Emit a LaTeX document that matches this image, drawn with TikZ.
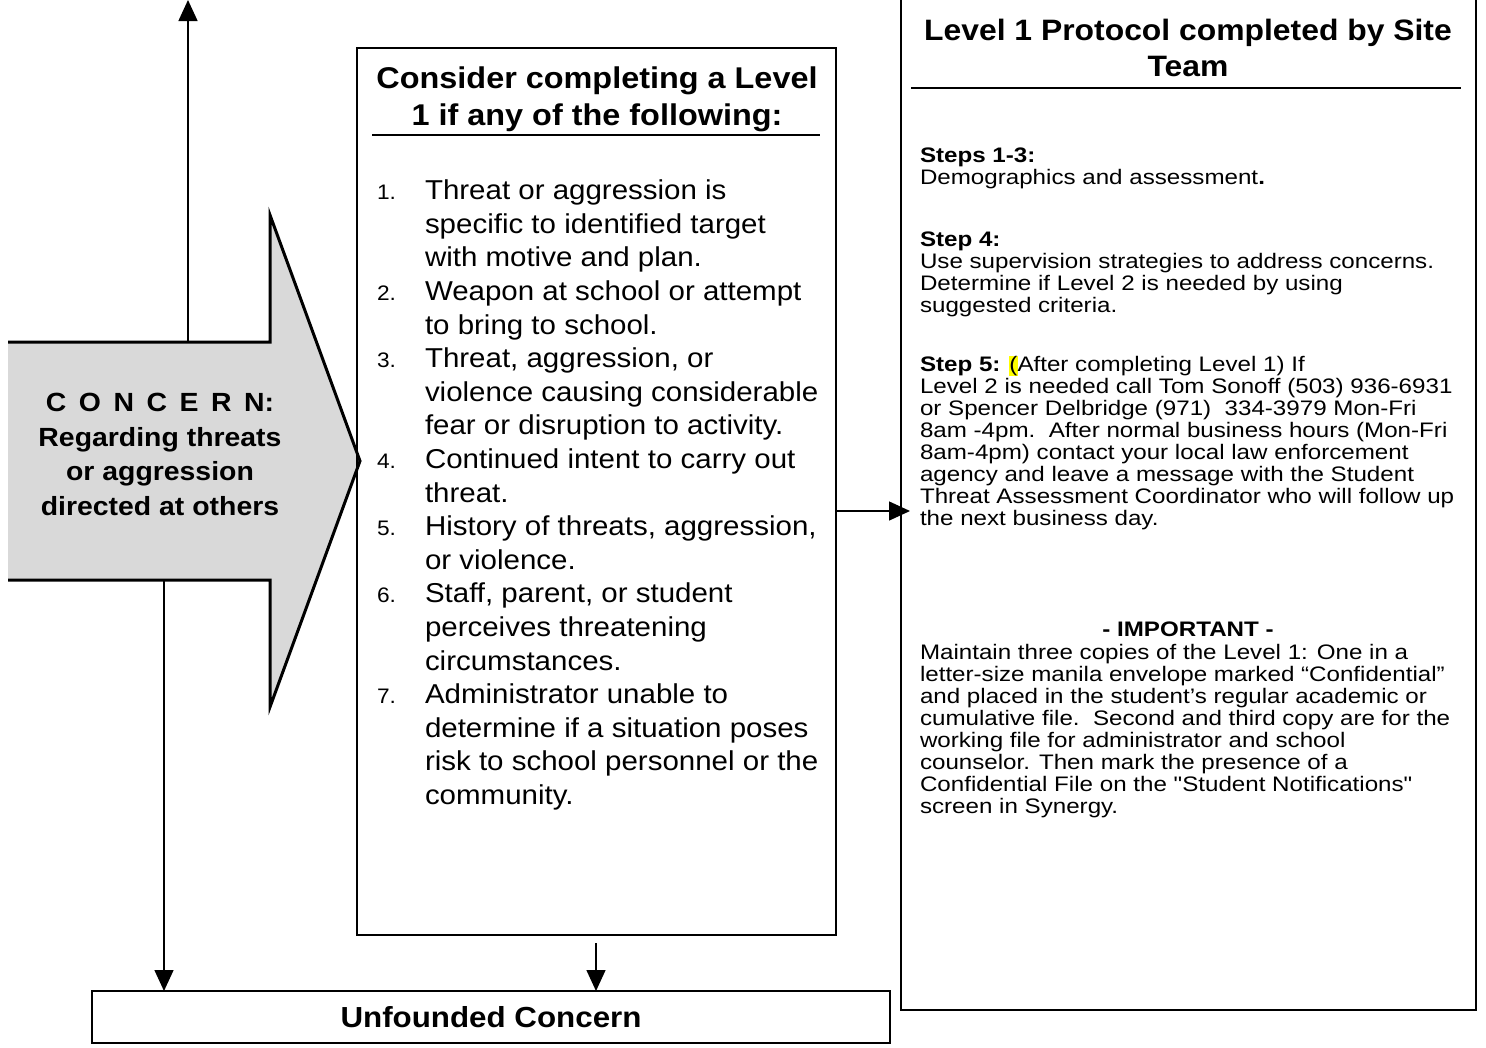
\documentclass[tikz,border=0pt]{standalone}
\usepackage{fontspec}
\setmainfont[FakeStretch=1.08]{Liberation Sans}
\newfontfamily\rightfont[FakeStretch=1.15]{Liberation Sans}
\usetikzlibrary{arrows.meta,calc}
\definecolor{arrowgray}{RGB}{217,217,217}
\definecolor{hlyellow}{RGB}{255,255,0}
\newcommand\numitem[2]{\makebox[48pt][l]{\fontsize{21}{21}\selectfont #1.}#2}
\newcommand\contline[1]{\hspace*{48pt}#1}
\newcommand\hlmark[1]{{\setlength\fboxsep{0pt}\colorbox{hlyellow}{#1}}}
\begin{document}
\begin{tikzpicture}[x=1pt,y=-1pt,
  box/.style={draw, line width=1.5pt, inner sep=0pt, outer sep=0pt, anchor=north west},
  conn/.style={line width=1.5pt, -{Triangle[width=19pt,length=21pt]}},
  rulebar/.style={line width=2pt},
  txt/.style={inner sep=0pt, outer sep=0pt, align=left, anchor=north west},
  listfont/.style={font=\fontsize{27.3}{33.6}\selectfont},
  smallfont/.style={font=\rightfont\fontsize{21}{22}\selectfont},
]
\useasboundingbox[fill=white] (0,0) rectangle (1486,1047);

% big CONCERN arrow
\fill[arrowgray] (8,342) -- (270,342) -- (270,215) -- (360,461) -- (270,707) -- (270,580) -- (8,580) -- cycle;
\draw[line width=3pt, miter limit=20] (8,342) -- (270,342) -- (270,215) -- (360,461) -- (270,707) -- (270,580) -- (8,580);
\node[inner sep=0pt, align=center, anchor=north, font=\bfseries\fontsize{26.3}{34.7}\selectfont] (concern) at (160,393)
  {{\spaceskip=12.5pt C O N C E R N:}\\Regarding threats\\or aggression\\directed at others};

% boxes
\node[box, minimum width=479pt, minimum height=887pt] (mid) at (357,48) {};
\node[box, minimum width=575pt, minimum height=1012pt] (right) at (901,-2) {};
\node[box, minimum width=798pt, minimum height=52pt, font=\bfseries\fontsize{29}{29}\selectfont] (unf) at (92,991) {Unfounded Concern};

% middle box content
\node[inner sep=0pt, align=center, anchor=north, font=\bfseries\fontsize{30}{37}\selectfont] (midhead) at (597,67)
  {Consider completing a Level\\1 if any of the following:};
\draw[rulebar] (372,135) -- (820,135);
\node[txt, listfont] (list) at (377,180) {%
\numitem{1}{Threat or aggression is}\\
\contline{specific to identified target}\\
\contline{with motive and plan.}\\
\numitem{2}{Weapon at school or attempt}\\
\contline{to bring to school.}\\
\numitem{3}{Threat, aggression, or}\\
\contline{violence causing considerable}\\
\contline{fear or disruption to activity.}\\
\numitem{4}{Continued intent to carry out}\\
\contline{threat.}\\
\numitem{5}{History of threats, aggression,}\\
\contline{or violence.}\\
\numitem{6}{Staff, parent, or student}\\
\contline{perceives threatening}\\
\contline{circumstances.}\\
\numitem{7}{Administrator unable to}\\
\contline{determine if a situation poses}\\
\contline{risk to school personnel or the}\\
\contline{community.}};

% right box content
\node[inner sep=0pt, align=center, anchor=north, font=\bfseries\fontsize{29.5}{36}\selectfont] (righthead) at (1188,19)
  {Level 1 Protocol completed by Site\\Team};
\draw[rulebar] (911,88) -- (1461,88);
\node[txt, smallfont] (steps13) at (920,148) {\textbf{Steps 1-3:}\\Demographics and assessment\textbf{.}};
\node[txt, smallfont] (step4) at (920,232) {\textbf{Step 4:}\\Use supervision strategies to address concerns.\\Determine if Level 2 is needed by using\\suggested criteria.};
\node[txt, smallfont] (step5) at (920,356) {\textbf{Step 5:} \hlmark{(}After completing Level 1) If\\
Level 2 is needed call Tom Sonoff (503) 936-6931\\
or Spencer Delbridge (971)\ \ 334-3979 Mon-Fri\\
8am -4pm.\ \ After normal business hours (Mon-Fri\\
8am-4pm) contact your local law enforcement\\
agency and leave a message with the Student\\
Threat Assessment Coordinator who will follow up\\
the next business day.};
\node[inner sep=0pt, anchor=north, font=\rightfont\bfseries\fontsize{21}{22}\selectfont] (important) at (1188,622) {- IMPORTANT -};
\node[txt, smallfont] (maintain) at (920,644) {Maintain three copies of the Level 1: One in a\\
letter-size manila envelope marked “Confidential”\\
and placed in the student’s regular academic or\\
cumulative file.\ \ Second and third copy are for the\\
working file for administrator and school\\
counselor. Then mark the presence of a\\
Confidential File on the "Student Notifications"\\
screen in Synergy.};

% connectors
\coordinate (upStart) at (188,342);
\coordinate (upEnd) at (188,0);
\draw[conn] (upStart) -- (upEnd);
\coordinate (downStart) at (164,580);
\draw[conn] (downStart) -- (downStart |- unf.north);
\coordinate (midOut) at (836,511);
\draw[conn, shorten >=-9pt] (midOut) -- (midOut -| right.west);
\coordinate (midBelow) at (596,943);
\draw[conn] (midBelow) -- (midBelow |- unf.north);
\end{tikzpicture}
\end{document}
